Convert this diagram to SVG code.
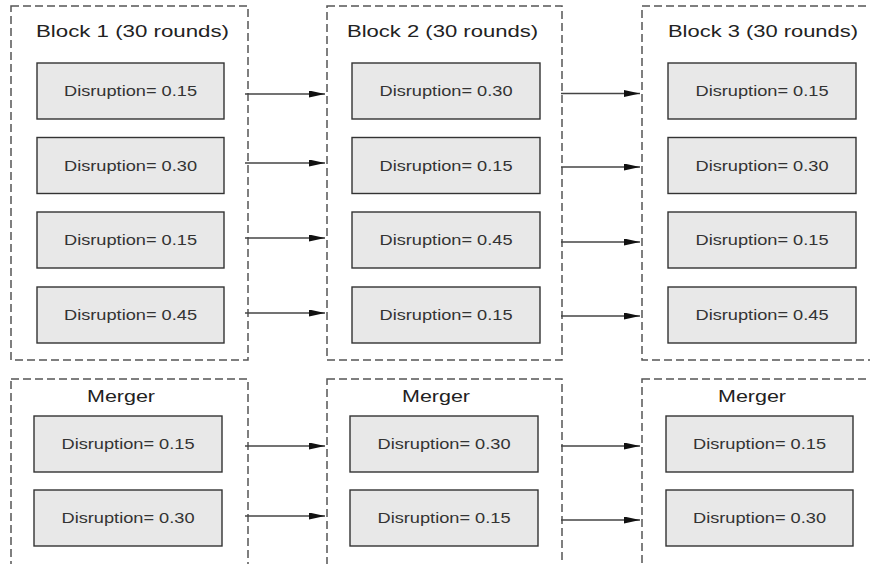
<svg xmlns="http://www.w3.org/2000/svg" width="870" height="564" viewBox="0 0 870 564">
<style>
.frame{fill:none;stroke:#555;stroke-width:1.5;stroke-dasharray:8 4}
.node rect{fill:#e8e8e8;stroke:#333;stroke-width:1.4}
.node text{font-family:"Liberation Sans",Arial,sans-serif;font-size:14.5px;fill:#333;text-anchor:middle}
.title{font-family:"Liberation Sans",Arial,sans-serif;font-size:16px;fill:#222;text-anchor:middle}
.conn line{stroke:#444;stroke-width:1.3;marker-end:url(#ah)}
</style>
<defs>
<marker id="ah" markerUnits="userSpaceOnUse" markerWidth="16" markerHeight="8" refX="16" refY="3.5" orient="auto">
<path d="M0,0 L16,3.5 L0,7 z" fill="#111"/>
</marker>
</defs>
<rect width="870" height="564" fill="#fff"/>

<g id="block1">
<rect class="frame" x="11" y="6" width="237" height="354"/>
<text class="title" x="132.5" y="37" textLength="193" lengthAdjust="spacingAndGlyphs">Block 1 (30 rounds)</text>
</g>
<g id="block2">
<rect class="frame" x="327" y="6" width="235" height="354"/>
<text class="title" x="442.5" y="37" textLength="191" lengthAdjust="spacingAndGlyphs">Block 2 (30 rounds)</text>
</g>
<g id="block3">
<rect class="frame" x="642" y="6" width="240" height="354"/>
<text class="title" x="763" y="37" textLength="190" lengthAdjust="spacingAndGlyphs">Block 3 (30 rounds)</text>
</g>
<g id="merger1">
<rect class="frame" x="11" y="379" width="237" height="200"/>
<text class="title" x="121" y="402" textLength="68" lengthAdjust="spacingAndGlyphs">Merger</text>
</g>
<g id="merger2">
<rect class="frame" x="327" y="379" width="235" height="200"/>
<text class="title" x="436" y="402" textLength="68" lengthAdjust="spacingAndGlyphs">Merger</text>
</g>
<g id="merger3">
<rect class="frame" x="642" y="379" width="240" height="200"/>
<text class="title" x="752" y="402" textLength="68" lengthAdjust="spacingAndGlyphs">Merger</text>
</g>

<g id="b1n1" class="node"><rect x="37" y="63" width="187" height="56"/><text x="130.5" y="96" textLength="133" lengthAdjust="spacingAndGlyphs">Disruption= 0.15</text></g>
<g id="b1n2" class="node"><rect x="37" y="137.5" width="187" height="56"/><text x="130.5" y="170.5" textLength="133" lengthAdjust="spacingAndGlyphs">Disruption= 0.30</text></g>
<g id="b1n3" class="node"><rect x="37" y="212" width="187" height="56"/><text x="130.5" y="245" textLength="133" lengthAdjust="spacingAndGlyphs">Disruption= 0.15</text></g>
<g id="b1n4" class="node"><rect x="37" y="287" width="187" height="56"/><text x="130.5" y="320" textLength="133" lengthAdjust="spacingAndGlyphs">Disruption= 0.45</text></g>

<g id="b2n1" class="node"><rect x="352" y="63" width="188" height="56"/><text x="446" y="96" textLength="133" lengthAdjust="spacingAndGlyphs">Disruption= 0.30</text></g>
<g id="b2n2" class="node"><rect x="352" y="137.5" width="188" height="56"/><text x="446" y="170.5" textLength="133" lengthAdjust="spacingAndGlyphs">Disruption= 0.15</text></g>
<g id="b2n3" class="node"><rect x="352" y="212" width="188" height="56"/><text x="446" y="245" textLength="133" lengthAdjust="spacingAndGlyphs">Disruption= 0.45</text></g>
<g id="b2n4" class="node"><rect x="352" y="287" width="188" height="56"/><text x="446" y="320" textLength="133" lengthAdjust="spacingAndGlyphs">Disruption= 0.15</text></g>

<g id="b3n1" class="node"><rect x="668" y="63" width="188" height="56"/><text x="762" y="96" textLength="133" lengthAdjust="spacingAndGlyphs">Disruption= 0.15</text></g>
<g id="b3n2" class="node"><rect x="668" y="137.5" width="188" height="56"/><text x="762" y="170.5" textLength="133" lengthAdjust="spacingAndGlyphs">Disruption= 0.30</text></g>
<g id="b3n3" class="node"><rect x="668" y="212" width="188" height="56"/><text x="762" y="245" textLength="133" lengthAdjust="spacingAndGlyphs">Disruption= 0.15</text></g>
<g id="b3n4" class="node"><rect x="668" y="287" width="188" height="56"/><text x="762" y="320" textLength="133" lengthAdjust="spacingAndGlyphs">Disruption= 0.45</text></g>

<g id="m1n1" class="node"><rect x="34" y="416" width="188" height="56"/><text x="128" y="449" textLength="133" lengthAdjust="spacingAndGlyphs">Disruption= 0.15</text></g>
<g id="m1n2" class="node"><rect x="34" y="490" width="188" height="56"/><text x="128" y="523" textLength="133" lengthAdjust="spacingAndGlyphs">Disruption= 0.30</text></g>
<g id="m2n1" class="node"><rect x="350" y="416" width="188" height="56"/><text x="444" y="449" textLength="133" lengthAdjust="spacingAndGlyphs">Disruption= 0.30</text></g>
<g id="m2n2" class="node"><rect x="350" y="490" width="188" height="56"/><text x="444" y="523" textLength="133" lengthAdjust="spacingAndGlyphs">Disruption= 0.15</text></g>
<g id="m3n1" class="node"><rect x="666" y="416" width="187" height="56"/><text x="759.5" y="449" textLength="133" lengthAdjust="spacingAndGlyphs">Disruption= 0.15</text></g>
<g id="m3n2" class="node"><rect x="666" y="490" width="187" height="56"/><text x="759.5" y="523" textLength="133" lengthAdjust="spacingAndGlyphs">Disruption= 0.30</text></g>

<g id="connectors" class="conn">
<line x1="245" y1="94" x2="325" y2="94"/>
<line x1="245" y1="163" x2="325" y2="163"/>
<line x1="245" y1="238" x2="325" y2="238"/>
<line x1="245" y1="313" x2="325" y2="313"/>
<line x1="561" y1="93.5" x2="640" y2="93.5"/>
<line x1="561" y1="167" x2="640" y2="167"/>
<line x1="561" y1="242" x2="640" y2="242"/>
<line x1="561" y1="316" x2="640" y2="316"/>
<line x1="245" y1="446" x2="325" y2="446"/>
<line x1="245" y1="516" x2="325" y2="516"/>
<line x1="561" y1="446" x2="640" y2="446"/>
<line x1="561" y1="520" x2="640" y2="520"/>
</g>
</svg>
